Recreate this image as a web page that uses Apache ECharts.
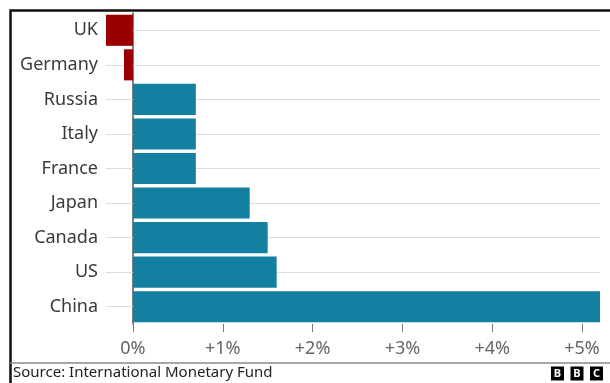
<!DOCTYPE html>
<html>
<head>
<meta charset="utf-8">
<script src="https://cdn.jsdelivr.net/npm/echarts@6/dist/echarts.min.js"></script>
<style>
  html, body { margin: 0; padding: 0; background: #fff; }
  #chart { width: 610px; height: 383px; }
</style>
</head>
<body>
<div id="chart"></div>
<script>
// GDP growth forecast, 2023 (%)
const countries = ['UK', 'Germany', 'Russia', 'Italy', 'France', 'Japan', 'Canada', 'US', 'China'];
const growth = [-0.3, -0.1, 0.7, 0.7, 0.7, 1.3, 1.5, 1.6, 5.2];
const tickValues = [0, 1, 2, 3, 4, 5];
const sourceText = 'Source: International Monetary Fund';

const TEAL = '#1380a1';
const RED = '#990000';
const FONT = '"Noto Sans", "Open Sans", sans-serif';

const chart = echarts.init(document.getElementById('chart'), null, { renderer: 'canvas' });

chart.setOption({
  animation: false,
  backgroundColor: '#fff',
  grid: {
    left: 106, right: 10, top: 13, bottom: 59,
    containLabel: false,
    outerBoundsMode: 'none'
  },
  xAxis: {
    type: 'value',
    min: -0.3,
    max: 5.2,
    splitLine: { show: false },
    axisLine: { show: false },
    axisTick: {
      show: true,
      customValues: tickValues,
      length: 8,
      lineStyle: { color: '#777', width: 1 }
    },
    axisLabel: {
      customValues: tickValues,
      margin: 16,
      color: '#666',
      fontFamily: FONT,
      fontSize: 18,
      formatter: v => (v > 0 ? '+' : '') + v + '%'
    }
  },
  yAxis: {
    type: 'category',
    data: countries,
    inverse: true,
    axisLine: { show: true, onZero: true, lineStyle: { color: '#555', width: 1.5 } },
    axisTick: { show: false },
    splitLine: { show: false },
    axisLabel: {
      margin: 8,
      color: '#3a3a3a',
      fontFamily: FONT,
      fontSize: 18
    }
  },
  series: [
    {
      // horizontal guide lines through each category
      type: 'line',
      data: [],
      silent: true,
      z: 1,
      markLine: {
        z: 1,
        silent: true,
        symbol: 'none',
        label: { show: false },
        lineStyle: { color: '#dcdcdc', width: 1, type: 'solid' },
        data: countries.map(c => ({ yAxis: c }))
      }
    },
    {
      type: 'bar',
      z: 3,
      barCategoryGap: '10%',
      data: growth.map(v => ({
        value: v,
        itemStyle: { color: v < 0 ? RED : TEAL }
      }))
    }
  ],
  graphic: [
    // frame: left and top rules
    {
      type: 'polyline',
      shape: { points: [[10.5, 383], [10.5, 10.5], [610, 10.5]] },
      style: { stroke: '#111', lineWidth: 2.5, fill: null }
    },
    // footer separator
    {
      type: 'line',
      shape: { x1: 10, y1: 363, x2: 610, y2: 363 },
      style: { stroke: '#8a8a8a', lineWidth: 1.5 }
    },
    {
      type: 'text',
      left: 13,
      top: 365,
      style: { text: sourceText, fill: '#222', font: '15px ' + FONT }
    },
    // BBC blocks
    ...['B', 'B', 'C'].map((ch, i) => ({
      type: 'group',
      x: 551 + i * 19.5,
      y: 366.5,
      children: [
        { type: 'rect', shape: { x: 0, y: 0, width: 13, height: 14 }, style: { fill: '#000' } },
        {
          type: 'text',
          x: 6.5, y: 7.2,
          style: {
            text: ch, fill: '#fff', font: 'bold 11px ' + FONT,
            align: 'center', verticalAlign: 'middle'
          }
        }
      ]
    }))
  ]
});
</script>
</body>
</html>
